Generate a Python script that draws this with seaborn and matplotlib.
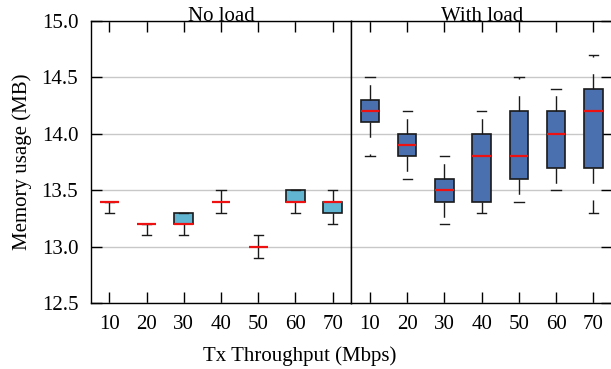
import pandas as pd
import matplotlib
matplotlib.use("Agg")
import matplotlib.pyplot as plt
import seaborn as sns

throughput = [10, 20, 30, 40, 50, 60, 70]

# memory usage (MB): min, q1, median, q3, max per level
noload_min = [13.3, 13.1, 13.1, 13.3, 12.9, 13.3, 13.2]
noload_q1 = [13.4, 13.2, 13.2, 13.4, 13.0, 13.4, 13.3]
noload_med = [13.4, 13.2, 13.2, 13.4, 13.0, 13.4, 13.4]
noload_q3 = [13.4, 13.2, 13.3, 13.4, 13.0, 13.5, 13.4]
noload_max = [13.4, 13.2, 13.3, 13.5, 13.1, 13.5, 13.5]

load_min = [13.8, 13.6, 13.2, 13.3, 13.4, 13.5, 13.3]
load_q1 = [14.1, 13.8, 13.4, 13.4, 13.6, 13.7, 13.7]
load_med = [14.2, 13.9, 13.5, 13.8, 13.8, 14.0, 14.2]
load_q3 = [14.3, 14.0, 13.6, 14.0, 14.2, 14.2, 14.4]
load_max = [14.5, 14.2, 13.8, 14.2, 14.5, 14.4, 14.7]

panels = ["No load", "With load"]
colors = ["#62b5d0", "#4a70b0"]

rows = []
for cond, stats in zip(panels, [
        [noload_min, noload_q1, noload_med, noload_q3, noload_max],
        [load_min, load_q1, load_med, load_q3, load_max]]):
    for s in stats:
        for t, v in zip(throughput, s):
            rows.append((cond, t, v))
df = pd.DataFrame(rows, columns=["load", "throughput", "memory"])

plt.rcParams["font.family"] = ["Liberation Serif", "DejaVu Serif"]
plt.rcParams["axes.edgecolor"] = "black"
plt.rcParams["axes.linewidth"] = 1.0

fig, axes = plt.subplots(1, 2, sharey=True, figsize=(6.11, 3.69), dpi=100)
fig.subplots_adjust(left=0.1484, right=1.0016, top=0.944, bottom=0.178, wspace=0)

for ax, cond, col in zip(axes, panels, colors):
    sns.boxplot(data=df[df["load"] == cond], x="throughput", y="memory",
                order=throughput, color=col, saturation=1, width=0.5,
                whis=(0, 100), showfliers=False, linecolor="#1a1a1a",
                linewidth=1.2, ax=ax,
                medianprops=dict(color="#ee1111", linewidth=1.6),
                whiskerprops=dict(linestyle=(0, (11, 12)), linewidth=1.0),
                capprops=dict(linewidth=1.0))
    ax.set_title(cond, fontsize=15, pad=0)
    ax.set_xlabel("")
    ax.set_xlim(-0.5, 6.5)
    ax.grid(axis="y", color="#c8c8c8", linewidth=1)
    ax.set_axisbelow(True)
    ax.tick_params(axis="both", direction="in", length=8, width=1,
                   labelsize=15, colors="black")
    ax.tick_params(axis="x", top=True, pad=8.5)

axes[0].set_ylim(12.5, 15.0)
axes[0].set_yticks([12.5, 13.0, 13.5, 14.0, 14.5, 15.0])
axes[0].set_yticklabels(["12.5", "13.0", "13.5", "14.0", "14.5", "15.0"])
axes[0].tick_params(axis="y", left=True, right=False, pad=9)
axes[1].tick_params(axis="y", left=False, right=True, labelleft=False)
axes[0].set_ylabel("Memory usage (MB)", fontsize=15, labelpad=7)
axes[1].set_ylabel("")

fig.text(300 / 611, 1 - 360.5 / 369, "Tx Throughput (Mbps)",
         ha="center", va="baseline", fontsize=15)

fig.savefig("out.png", dpi=100)
